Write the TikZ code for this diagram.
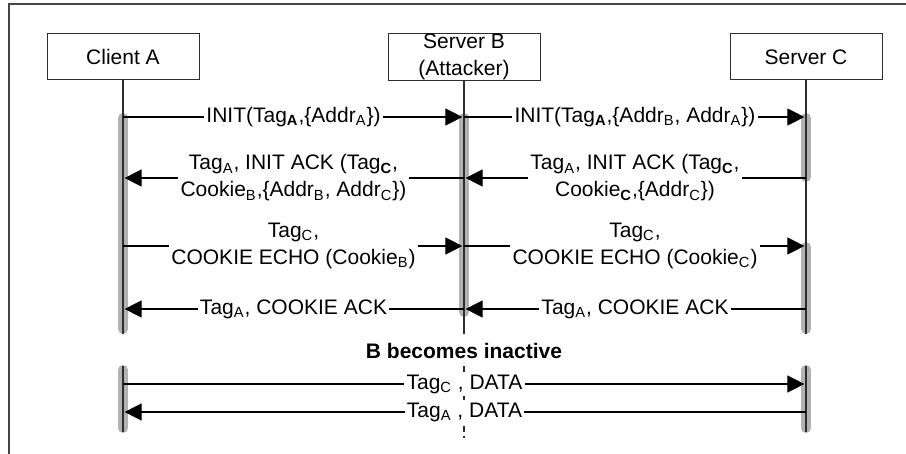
\documentclass[tikz,border=0pt]{standalone}
\usepackage{fontspec}
\setmainfont{Liberation Sans}
\usetikzlibrary{arrows.meta}
\newcommand\lsub[1]{\textsubscript{#1}}
\newcommand\lbsub[1]{\textsubscript{\textbf{#1}}}
\definecolor{barcol}{RGB}{178,178,178}
\definecolor{linecol}{RGB}{45,45,45}
\definecolor{framecol}{RGB}{70,70,70}
\begin{document}
\begin{tikzpicture}[x=0.5pt,y=-0.5pt,
  font=\fontsize{10.5}{13.5}\selectfont,
  party/.style={draw=linecol,line width=0.5pt,minimum width=76pt,minimum height=23pt,
    inner sep=0pt,align=center},
  bar/.style={draw=barcol,line width=5pt,line cap=round},
  life/.style={draw=linecol,line width=0.55pt},
  msg/.style={draw=black,line width=0.55pt,-{Triangle[length=8.5pt,width=8.5pt]},shorten >=0.8pt},
  lbl/.style={fill=white,inner sep=1.2pt,align=center},
  frameline/.style={draw=framecol,line width=0.9pt}]
\useasboundingbox (0,0) rectangle (906,454);

% outer frame (top and left edges)
\draw[frameline] (906,4) -- (9,4) -- (9,454);

% participants
\node[party] (A) at (123,57) {Client A};
\node[party] (B) at (464,57) {Server B\\(Attacker)};
\node[party] (C) at (806,57) {Server C};

% message rows and lifeline limits
\coordinate (r1) at (0,117);
\coordinate (r2) at (0,178);
\coordinate (r3) at (0,246);
\coordinate (r4) at (0,309);
\coordinate (r5) at (0,384);
\coordinate (r6) at (0,412);
\coordinate (e1) at (0,334);
\coordinate (s1) at (0,118);
\coordinate (aend) at (0,329);
\coordinate (bend) at (0,312);
\coordinate (c1end) at (0,177);
\coordinate (c2top) at (0,247);
\coordinate (lt) at (0,370);
\coordinate (lb) at (0,428);
\coordinate (dt) at (0,366);
\coordinate (db) at (0,438);
\coordinate (ldt) at (0,366);
\coordinate (ldb) at (0,432);

% activation bars
\draw[bar] (A |- s1) -- (A |- aend);
\draw[bar] (B |- s1) -- (B |- bend);
\draw[bar] (C |- s1) -- (C |- c1end);
\draw[bar] (C |- c2top) -- (C |- aend);
\draw[bar] (A |- lt) -- (A |- lb);
\draw[bar] (C |- lt) -- (C |- lb);

% lifelines
\draw[life] (A.south) -- (A |- e1);
\draw[life] (B.south) -- (B |- e1);
\draw[life] (C.south) -- (C |- e1);
\draw[life] (A |- ldt) -- (A |- ldb);
\draw[life] (C |- ldt) -- (C |- ldb);
\draw[life,dash pattern=on 3pt off 2pt] (B |- dt) -- (B |- db);

% association setup
\draw[msg] (A |- r1) -- node[lbl]{INIT(Tag\lbsub{A},\{Addr\lsub{A}\})} (B |- r1);
\draw[msg] (B |- r1) -- node[lbl]{INIT(Tag\lbsub{A},\{Addr\lsub{B}, Addr\lsub{A}\})} (C |- r1);
\draw[msg] (C |- r2) -- node[lbl]{Tag\lsub{A}, INIT ACK (Tag\lbsub{C},\\Cookie\lbsub{C},\{Addr\lsub{C}\})} (B |- r2);
\draw[msg] (B |- r2) -- node[lbl]{Tag\lsub{A}, INIT ACK (Tag\lbsub{C},\\Cookie\lsub{B},\{Addr\lsub{B}, Addr\lsub{C}\})} (A |- r2);
\draw[msg] (A |- r3) -- node[lbl]{Tag\lsub{C},\\COOKIE ECHO (Cookie\lsub{B})} (B |- r3);
\draw[msg] (B |- r3) -- node[lbl]{Tag\lsub{C},\\COOKIE ECHO (Cookie\lsub{C})} (C |- r3);
\draw[msg] (C |- r4) -- node[lbl]{Tag\lsub{A}, COOKIE ACK} (B |- r4);
\draw[msg] (B |- r4) -- node[lbl]{Tag\lsub{A}, COOKIE ACK} (A |- r4);

\node[font=\fontsize{10.5}{13.5}\selectfont\bfseries] (note) at (464,351) {B becomes inactive};

% data transfer after B leaves
\draw[msg] (A |- r5) -- node[lbl]{Tag\lsub{C} , DATA} (C |- r5);
\draw[msg] (C |- r6) -- node[lbl]{Tag\lsub{A} , DATA} (A |- r6);
\end{tikzpicture}
\end{document}
